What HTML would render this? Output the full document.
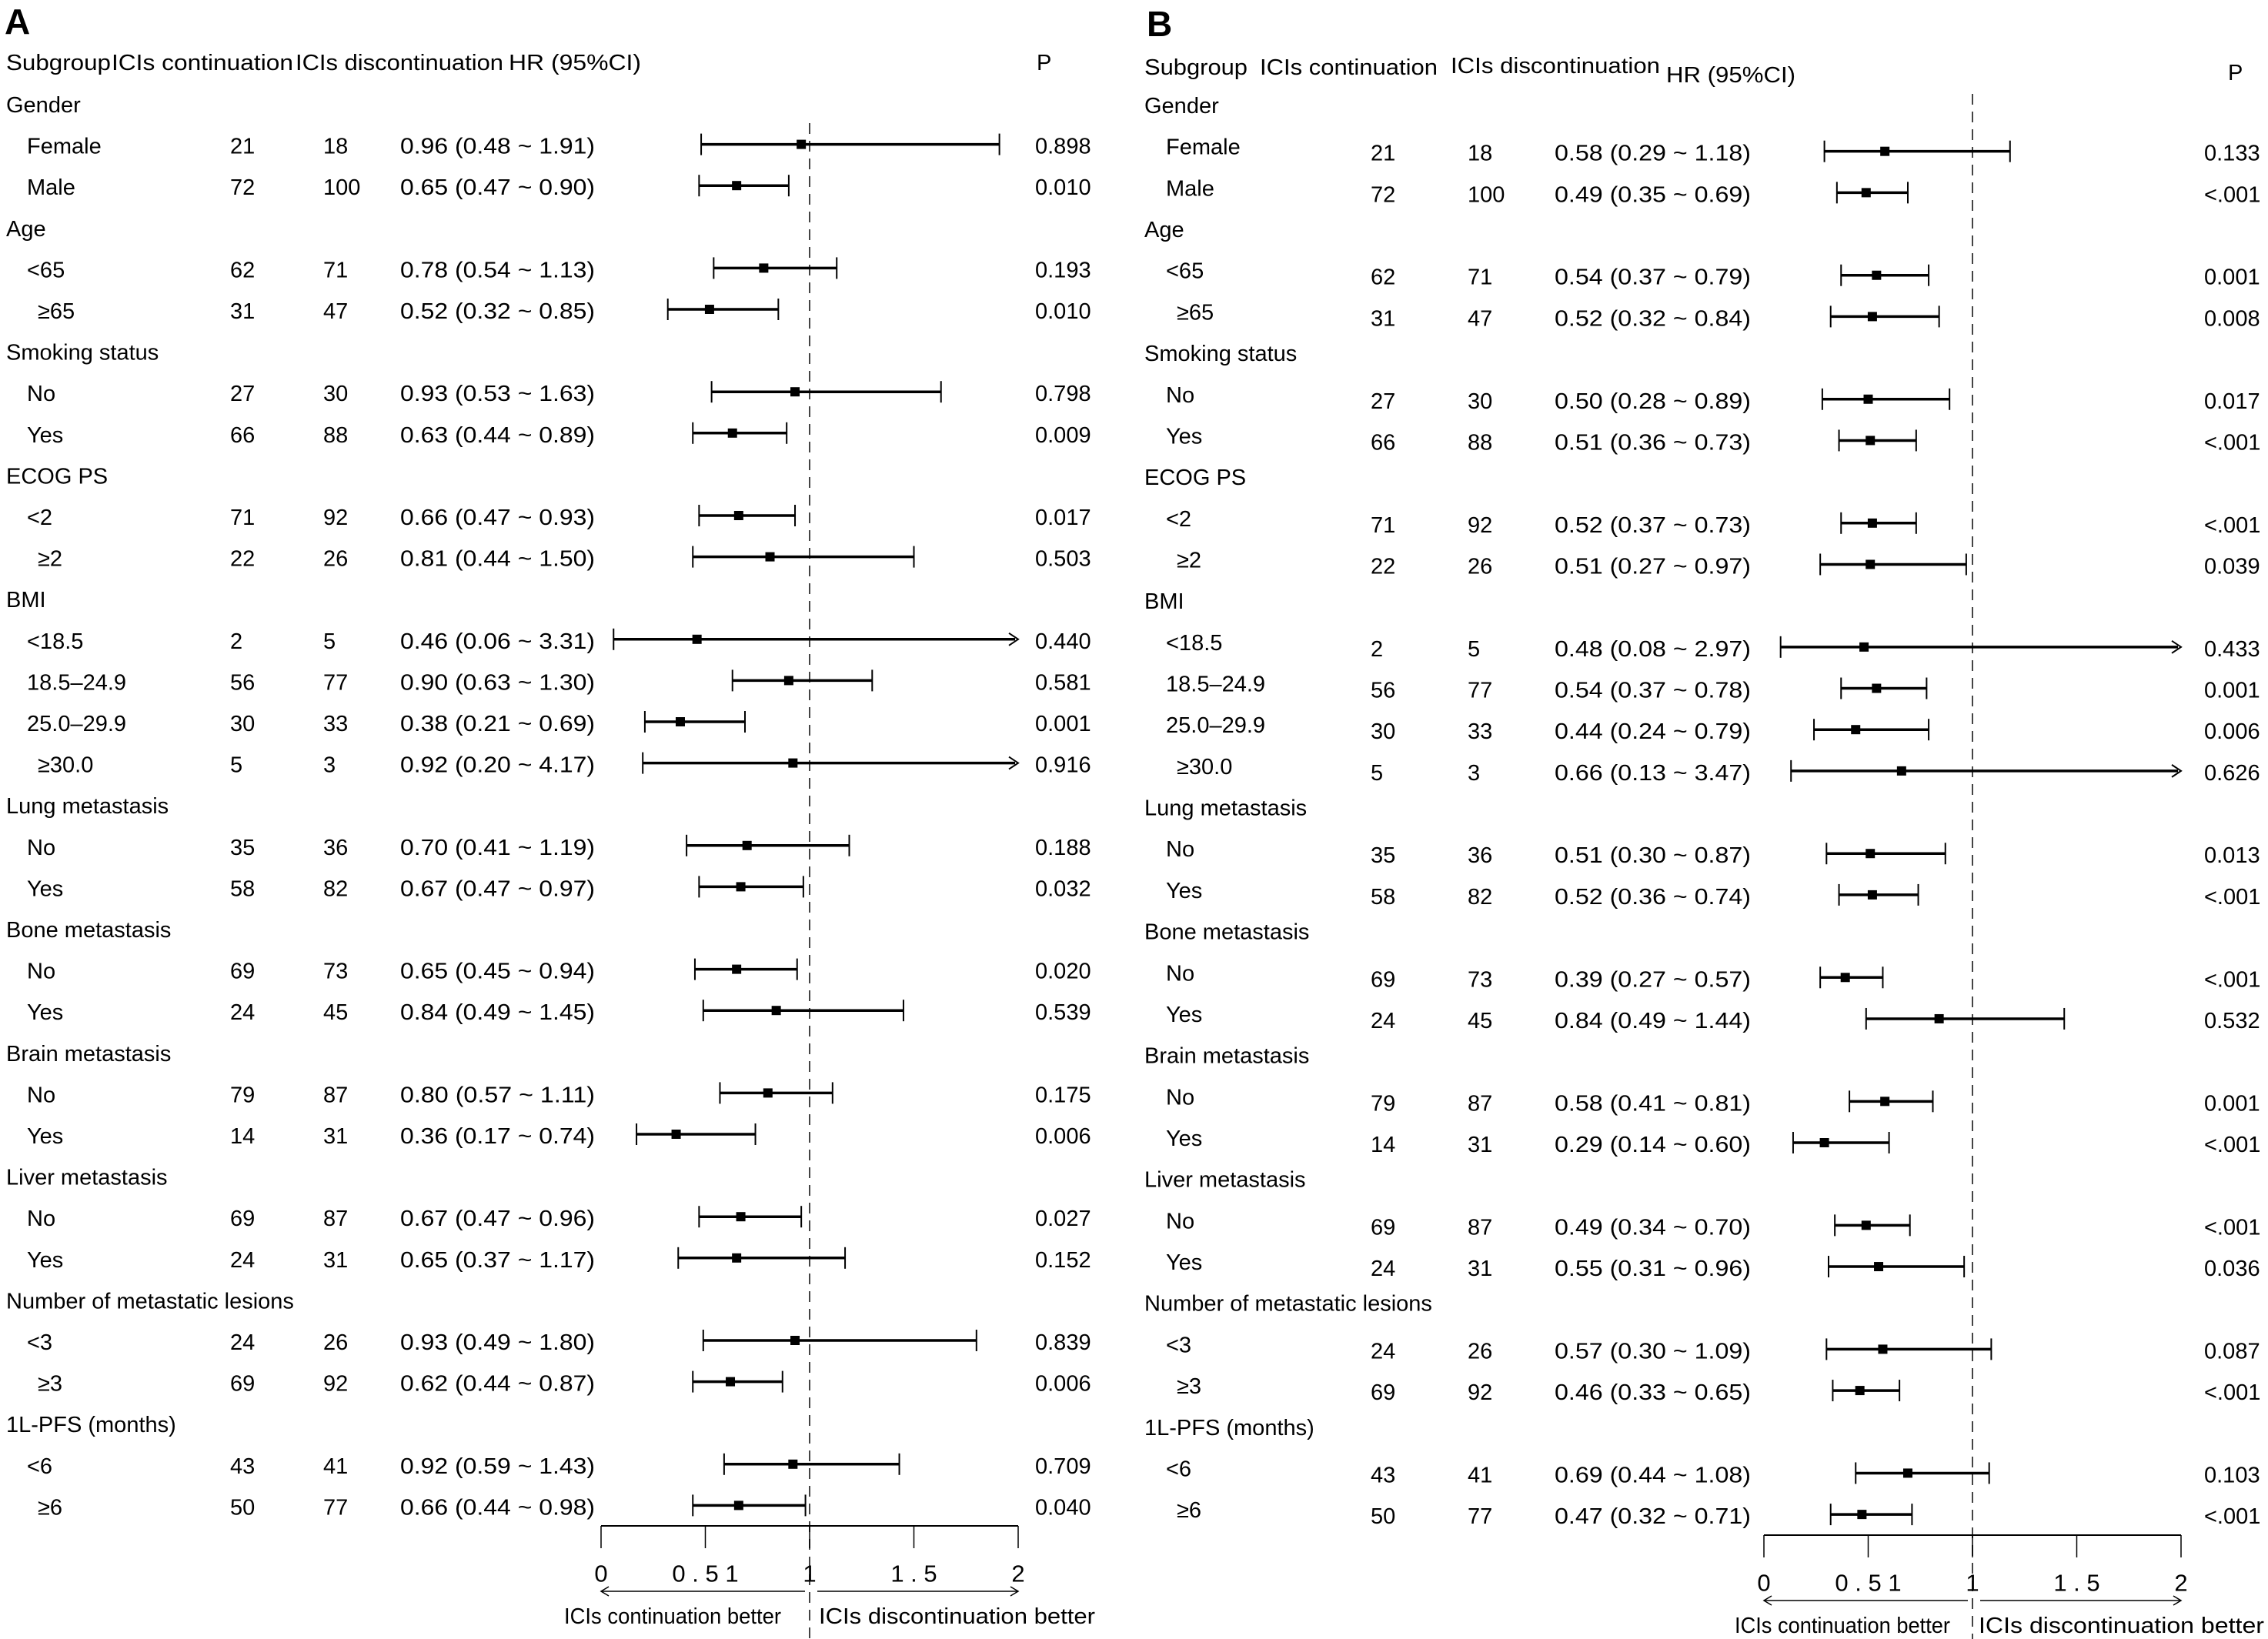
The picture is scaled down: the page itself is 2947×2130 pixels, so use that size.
<!DOCTYPE html>
<html><head><meta charset="utf-8">
<style>
html,body{margin:0;padding:0;background:#fff;}
svg{display:block;}
text{font-family:"Liberation Sans",Arial,sans-serif;fill:#000;}
</style></head>
<body>
<svg id="fig" width="2947" height="2130" viewBox="0 0 2947 2130" xmlns="http://www.w3.org/2000/svg"></svg>
<script>
// ---- Panel A data ----
const aLabels = ["Gender","Female","Male","Age","<65","≥65","Smoking status","No","Yes","ECOG PS","<2","≥2","BMI","<18.5","18.5–24.9","25.0–29.9","≥30.0","Lung metastasis","No","Yes","Bone metastasis","No","Yes","Brain metastasis","No","Yes","Liver metastasis","No","Yes","Number of metastatic lesions","<3","≥3","1L-PFS (months)","<6","≥6"];
const aN1 = [null,21,72,null,62,31,null,27,66,null,71,22,null,2,56,30,5,null,35,58,null,69,24,null,79,14,null,69,24,null,24,69,null,43,50];
const aN2 = [null,18,100,null,71,47,null,30,88,null,92,26,null,5,77,33,3,null,36,82,null,73,45,null,87,31,null,87,31,null,26,92,null,41,77];
const aHR = [null,0.96,0.65,null,0.78,0.52,null,0.93,0.63,null,0.66,0.81,null,0.46,0.90,0.38,0.92,null,0.70,0.67,null,0.65,0.84,null,0.80,0.36,null,0.67,0.65,null,0.93,0.62,null,0.92,0.66];
const aLo = [null,0.48,0.47,null,0.54,0.32,null,0.53,0.44,null,0.47,0.44,null,0.06,0.63,0.21,0.20,null,0.41,0.47,null,0.45,0.49,null,0.57,0.17,null,0.47,0.37,null,0.49,0.44,null,0.59,0.44];
const aHi = [null,1.91,0.90,null,1.13,0.85,null,1.63,0.89,null,0.93,1.50,null,3.31,1.30,0.69,4.17,null,1.19,0.97,null,0.94,1.45,null,1.11,0.74,null,0.96,1.17,null,1.80,0.87,null,1.43,0.98];
const aP = [null,"0.898","0.010",null,"0.193","0.010",null,"0.798","0.009",null,"0.017","0.503",null,"0.440","0.581","0.001","0.916",null,"0.188","0.032",null,"0.020","0.539",null,"0.175","0.006",null,"0.027","0.152",null,"0.839","0.006",null,"0.709","0.040"];
// ---- Panel B data ----
const bLabels = aLabels;
const bN1 = aN1;
const bN2 = aN2;
const bHR = [null,0.58,0.49,null,0.54,0.52,null,0.50,0.51,null,0.52,0.51,null,0.48,0.54,0.44,0.66,null,0.51,0.52,null,0.39,0.84,null,0.58,0.29,null,0.49,0.55,null,0.57,0.46,null,0.69,0.47];
const bLo = [null,0.29,0.35,null,0.37,0.32,null,0.28,0.36,null,0.37,0.27,null,0.08,0.37,0.24,0.13,null,0.30,0.36,null,0.27,0.49,null,0.41,0.14,null,0.34,0.31,null,0.30,0.33,null,0.44,0.32];
const bHi = [null,1.18,0.69,null,0.79,0.84,null,0.89,0.73,null,0.73,0.97,null,2.97,0.78,0.79,3.47,null,0.87,0.74,null,0.57,1.44,null,0.81,0.60,null,0.70,0.96,null,1.09,0.65,null,1.08,0.71];
const bP = [null,"0.133","<.001",null,"0.001","0.008",null,"0.017","<.001",null,"<.001","0.039",null,"0.433","0.001","0.006","0.626",null,"0.013","<.001",null,"<.001","0.532",null,"0.001","<.001",null,"<.001","0.036",null,"0.087","<.001",null,"0.103","<.001"];
const tickVals = [0,0.5,1,1.5,2];
const tickLabels = ["0","0 . 5 1","1","1 . 5","2"];

const NS = "http://www.w3.org/2000/svg";
const svg = document.getElementById("fig");
function mk(tag, attrs, parent){
  const e = document.createElementNS(NS, tag);
  for (const k in attrs) e.setAttribute(k, attrs[k]);
  (parent||svg).appendChild(e);
  return e;
}
function txt(parent, x, y, s, size, extra){
  const t = mk("text", Object.assign({x:x, y:y, "font-size":size, "dominant-baseline":"central"}, extra||{}), parent);
  t.textContent = s;
  return t;
}

function panel(cfg){
  const g = mk("g", {});
  
  
  const xs = v => cfg.x0 + v * cfg.unit;
  const xMax = xs(2);
  const L = txt(g, cfg.letterX, cfg.letterY, cfg.letter, 46, {"font-weight":"bold"});
  
  
  const hdr = mk("g", {}, g);
  
  
  cfg.headers.forEach(h => {
    const t = txt(hdr, h[0], h[2], h[3], 29, {textLength:h[1], lengthAdjust:"spacingAndGlyphs"});
    
    
  });
  const ph = txt(hdr, cfg.pHeadX, cfg.pHeadY, "P", 29);
  
  
  const ref = mk("line", {x1:xs(1), x2:xs(1), y1:cfg.refTop, y2:2130, stroke:"#444", "stroke-width":2, "stroke-dasharray":"14,9"}, g);
  
  
  cfg.labels.forEach((lab, i) => {
    const ly = cfg.labY0 + cfg.step * i;
    const dy = ly + cfg.dataOff;
    const row = mk("g", {}, g);
    if (cfg.hr[i] === null) {
      
      
      txt(row, cfg.groupX, ly, lab, 29);
      return;
    }
    
    
    const indent = lab.startsWith("≥") ? 14 : 0;
    txt(row, cfg.subX + indent, ly, lab, 29);
    txt(row, cfg.n1X, dy, String(cfg.n1[i]), 29);
    txt(row, cfg.n2X, dy, String(cfg.n2[i]), 29);
    const hrs = cfg.hr[i].toFixed(2) + " (" + cfg.lo[i].toFixed(2) + " ~ " + cfg.hi[i].toFixed(2) + ")";
    txt(row, cfg.hrX, dy, hrs, 29, {textLength:cfg.hrW, lengthAdjust:"spacingAndGlyphs"});
    txt(row, cfg.pX, dy, cfg.p[i], 29);
    const cy = dy - 3;
    const xl = xs(cfg.lo[i]);
    const over = cfg.hi[i] > 2;
    const xr = over ? xMax : xs(cfg.hi[i]);
    const ci = mk("line", {x1:xl, x2: over ? xr - 4 : xr, y1:cy, y2:cy, stroke:"#000", "stroke-width":3.5}, row);
    
    
    mk("line", {x1:xl, x2:xl, y1:cy-14, y2:cy+14, stroke:"#000", "stroke-width":2}, row);
    if (over) {
      mk("polyline", {points:(xr-12)+","+(cy-8)+" "+xr+","+cy+" "+(xr-12)+","+(cy+8), fill:"none", stroke:"#000", "stroke-width":2}, row);
    } else {
      mk("line", {x1:xr, x2:xr, y1:cy-14, y2:cy+14, stroke:"#000", "stroke-width":2}, row);
    }
    const m = mk("rect", {x:xs(cfg.hr[i])-6, y:cy-6, width:12, height:12, fill:"#000"}, row);
    
    
  });
  const ax = mk("g", {}, g);
  
  
  mk("line", {x1:xs(0), x2:xMax, y1:cfg.axisY, y2:cfg.axisY, stroke:"#000", "stroke-width":2}, ax);
  tickVals.forEach((v, k) => {
    mk("line", {x1:xs(v), x2:xs(v), y1:cfg.axisY, y2:cfg.axisY+29, stroke:"#000", "stroke-width":1.5}, ax);
    const t = txt(ax, xs(v), cfg.axisY+62, tickLabels[k], 31, {"text-anchor":"middle"});
    
    
  });
  const ay = cfg.axisY + 85;
  mk("polyline", {points:(xs(0)+10)+","+(ay-6)+" "+xs(0)+","+ay+" "+(xs(0)+10)+","+(ay+6), fill:"none", stroke:"#000", "stroke-width":1.5}, ax);
  mk("line", {x1:xs(0), x2:xs(1)-6, y1:ay, y2:ay, stroke:"#000", "stroke-width":1.5}, ax);
  mk("line", {x1:xs(1)+10, x2:xMax, y1:ay, y2:ay, stroke:"#000", "stroke-width":1.5}, ax);
  mk("polyline", {points:(xMax-10)+","+(ay-6)+" "+xMax+","+ay+" "+(xMax-10)+","+(ay+6), fill:"none", stroke:"#000", "stroke-width":1.5}, ax);
  const b1 = txt(ax, cfg.bt1[0], cfg.axisY+118, "ICIs continuation better", 29, {textLength:cfg.bt1[1], lengthAdjust:"spacingAndGlyphs"});
  
  
  const b2 = txt(ax, cfg.bt2[0], cfg.axisY+118, "ICIs discontinuation better", 29, {textLength:cfg.bt2[1], lengthAdjust:"spacingAndGlyphs"});
  
  
}

panel({name:"panel-a", letter:"A", letterX:6, letterY:28, x0:781, unit:271,
  headers:[[8,136,82,"Subgroup"],[145,236,82,"ICIs continuation"],[384,270,82,"ICIs discontinuation"],[661,172,82,"HR (95%CI)"]],
  pHeadX:1347, pHeadY:82, refTop:160,
  labels:aLabels, n1:aN1, n2:aN2, hr:aHR, lo:aLo, hi:aHi, p:aP,
  labY0:137, step:53.6, dataOff:0, groupX:8, subX:35, n1X:299, n2X:420, hrX:520, hrW:253, pX:1345,
  axisY:1983, bt1:[733,282], bt2:[1064,359]});

panel({name:"panel-b", letter:"B", letterX:1490, letterY:31, x0:2292, unit:271,
  headers:[[1487,134,88,"Subgroup"],[1637,231,88,"ICIs continuation"],[1885,272,86,"ICIs discontinuation"],[2165,168,98,"HR (95%CI)"]],
  pHeadX:2895, pHeadY:95, refTop:122,
  labels:bLabels, n1:bN1, n2:bN2, hr:bHR, lo:bLo, hi:bHi, p:bP,
  labY0:138, step:53.68, dataOff:8, groupX:1487, subX:1515, n1X:1781, n2X:1907, hrX:2020, hrW:255, pX:2864,
  axisY:1995, bt1:[2254,280], bt2:[2571,371]});
</script>
</body></html>
